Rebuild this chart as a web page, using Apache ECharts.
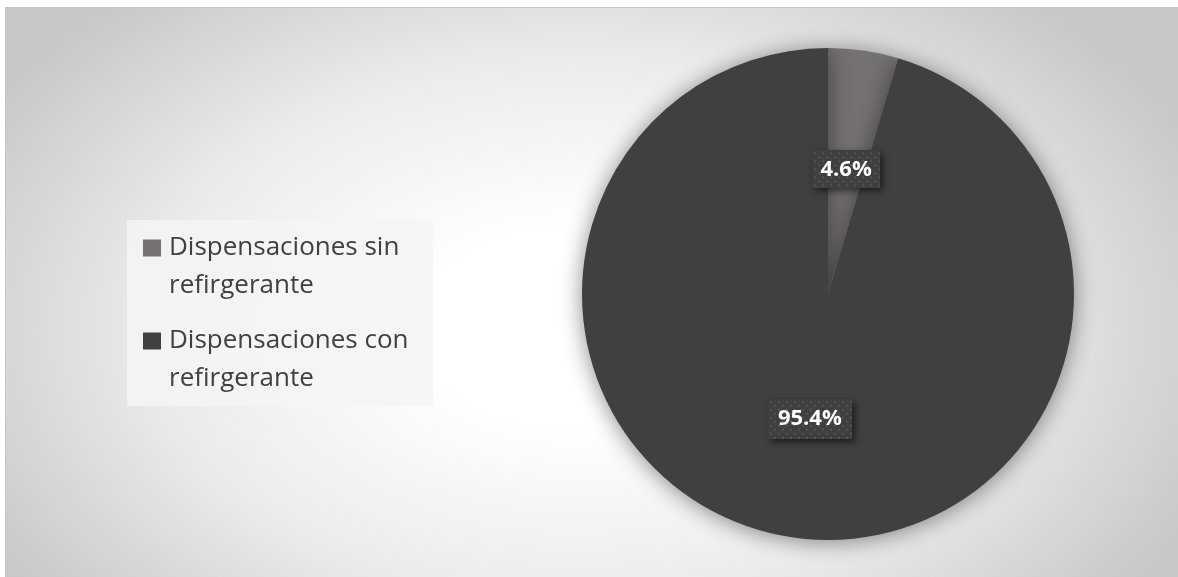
<!DOCTYPE html>
<html>
<head>
<meta charset="utf-8">
<script src="https://cdn.jsdelivr.net/npm/echarts@6/dist/echarts.min.js"></script>
<style>
  html, body { margin: 0; padding: 0; background: #ffffff; }
  #frame {
    position: absolute; left: 5px; top: 7px; width: 1173px; height: 570px;
    box-sizing: border-box;
    border-top: 1px solid #c4c4c4; border-left: 1px solid #c4c4c4;
    background: radial-gradient(ellipse 680px 440px at 570px 320px, #ffffff 0%, #ffffff 22%, #ebebeb 62%, #c8c8c8 100%);
  }
  #chart { position: absolute; left: 0; top: 0; width: 1178px; height: 577px; }
</style>
</head>
<body>
<div id="frame"></div>
<div id="chart"></div>
<script>
// Share of dispensations, with and without refrigerant
const categories = ['Dispensaciones sin\nrefirgerante', 'Dispensaciones con\nrefirgerante'];
const values = [4.6, 95.4];
const colors = ['#767171', '#404040'];

// Dotted dark fill for the data-label boxes
function dottedTile(w, h) {
  const c = document.createElement('canvas');
  c.width = w; c.height = h;
  const g = c.getContext('2d');
  g.fillStyle = '#3f3f3f';
  g.fillRect(0, 0, w, h);
  g.fillStyle = '#555555';
  for (let y = 2; y < h; y += 8) {
    for (let x = 2; x < w; x += 8) {
      g.fillRect(x, y, 2, 2);
      if (x + 4 < w && y + 4 < h) g.fillRect(x + 4, y + 4, 2, 2);
    }
  }
  return c;
}

const labelBoxes = [
  { width: 54, height: 24, padding: [7, 7] },
  { width: 66, height: 24, padding: [8, 9] }
];

const chart = echarts.init(document.getElementById('chart'), null, { renderer: 'canvas' });

chart.setOption({
  backgroundColor: 'transparent',
  animation: false,
  graphic: [{
    type: 'rect',
    left: 127, top: 220,
    shape: { width: 306, height: 186 },
    style: { fill: 'rgba(244,244,244,0.85)' },
    z: 0
  }],
  legend: {
    orient: 'vertical',
    left: 143,
    top: 191,
    padding: 0,
    itemWidth: 18,
    itemHeight: 17,
    itemGap: -21,
    icon: 'rect',
    data: categories,
    // a blank leading line keeps the first text line level with the swatch
    formatter: name => '\n' + name,
    textStyle: {
      fontFamily: 'Open Sans',
      fontSize: 26,
      color: '#404040',
      lineHeight: 38,
      padding: [0, 0, 0, 3]
    },
    z: 5
  },
  series: [{
    type: 'pie',
    center: [828, 294],
    radius: 246,
    startAngle: 90,
    clockwise: true,
    silent: true,
    itemStyle: {
      borderWidth: 0,
      shadowBlur: 22,
      shadowOffsetY: 2,
      shadowColor: 'rgba(0,0,0,0.45)'
    },
    label: {
      show: true,
      position: 'inside',
      formatter: p => p.value.toFixed(1) + '%',
      fontFamily: 'Open Sans',
      fontWeight: 'bold',
      fontSize: 22,
      color: '#ffffff',
      align: 'center',
      verticalAlign: 'middle',
      overflow: 'none',
      shadowColor: 'rgba(0,0,0,0.55)',
      shadowBlur: 7,
      shadowOffsetX: 3,
      shadowOffsetY: 3
    },
    labelLine: { show: false },
    data: categories.map((name, i) => {
      const b = labelBoxes[i];
      const w = b.width + b.padding[1] * 2;
      const h = b.height + b.padding[0] * 2;
      return {
        name: name,
        value: values[i],
        itemStyle: { color: colors[i] },
        label: {
          width: b.width,
          height: b.height,
          padding: b.padding,
          backgroundColor: { image: dottedTile(w, h) }
        }
      };
    })
  }]
});
</script>
</body>
</html>
